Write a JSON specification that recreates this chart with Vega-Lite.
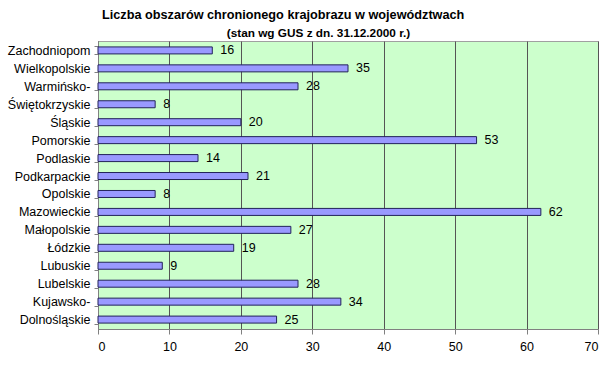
{
  "$schema": "https://vega.github.io/schema/vega-lite/v6.json",
  "autosize": "none",
  "width": 500,
  "height": 288,
  "padding": {"left": 98, "top": 41, "right": 12, "bottom": 40},
  "background": "white",
  "config": {
    "font": "Liberation Sans",
    "view": {"fill": "#ccffcc", "stroke": "#a0a0a0", "strokeWidth": 1}
  },
  "title": {
    "text": "Liczba obszarów chronionego krajobrazu w województwach",
    "anchor": "start",
    "frame": "group",
    "dx": 4,
    "offset": 5,
    "fontSize": 12.7,
    "fontWeight": "bold",
    "color": "#000000"
  },
  "resolve": {"axis": {"x": "independent"}},
  "data": {
    "values": [
      {"woj": "Zachodniopom", "n": 16},
      {"woj": "Wielkopolskie", "n": 35},
      {"woj": "Warmińsko-", "n": 28},
      {"woj": "Świętokrzyskie", "n": 8},
      {"woj": "Śląskie", "n": 20},
      {"woj": "Pomorskie", "n": 53},
      {"woj": "Podlaskie", "n": 14},
      {"woj": "Podkarpackie", "n": 21},
      {"woj": "Opolskie", "n": 8},
      {"woj": "Mazowieckie", "n": 62},
      {"woj": "Małopolskie", "n": 27},
      {"woj": "Łódzkie", "n": 19},
      {"woj": "Lubuskie", "n": 9},
      {"woj": "Lubelskie", "n": 28},
      {"woj": "Kujawsko-", "n": 34},
      {"woj": "Dolnośląskie", "n": 25}
    ]
  },
  "encoding": {
    "y": {
      "field": "woj",
      "type": "nominal",
      "sort": null,
      "scale": {"paddingInner": 0.55, "paddingOuter": 0.3},
      "axis": {
        "title": null,
        "labelFontSize": 12.5,
        "labelColor": "#000000",
        "labelPadding": 4,
        "domainColor": "#808080",
        "tickColor": "#808080",
        "tickSize": 4,
        "tickBand": "extent"
      }
    }
  },
  "layer": [
    {
      "mark": {"type": "bar", "color": "#9999ff", "stroke": "#22225a", "strokeWidth": 1, "size": 7},
      "encoding": {
        "x": {
          "field": "n",
          "type": "quantitative",
          "scale": {"domain": [0, 70], "nice": false},
          "axis": {
            "title": null,
            "values": [0, 10, 20, 30, 40, 50, 60, 70],
            "labelFontSize": 12.5,
            "labelColor": "#000000",
            "labelPadding": 6,
            "domainColor": "#808080",
            "tickColor": "#808080",
            "tickSize": 5,
            "grid": true,
            "gridColor": "#555555",
            "gridWidth": 1
          }
        }
      }
    },
    {
      "mark": {"type": "text", "align": "left", "dx": 8, "fontSize": 12.5, "color": "#000000"},
      "encoding": {
        "x": {
          "field": "n",
          "type": "quantitative",
          "scale": {"domain": [0, 70], "nice": false},
          "axis": {
            "orient": "top",
            "labels": false,
            "ticks": false,
            "domain": false,
            "grid": false,
            "title": "(stan wg GUS z dn. 31.12.2000 r.)",
            "titleFontSize": 11.8,
            "titleFontWeight": "bold",
            "titleColor": "#000000",
            "titleAlign": "center",
            "titleBaseline": "alphabetic",
            "titleX": 220,
            "titleY": -5
          }
        },
        "text": {"field": "n", "type": "quantitative"}
      }
    }
  ]
}
